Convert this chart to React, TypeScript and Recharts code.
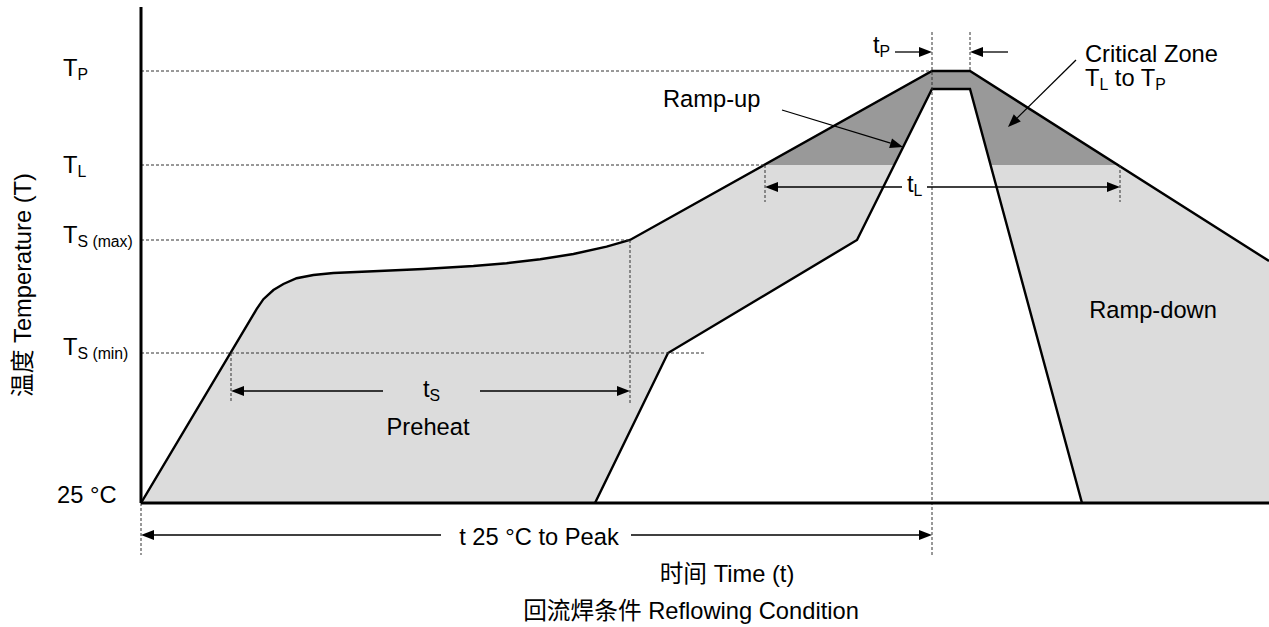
import {
  ComposedChart,
  Area,
  Line,
  XAxis,
  YAxis,
  ReferenceLine,
  ReferenceDot,
} from 'recharts';

const FONT = '"Liberation Sans", Arial, "Noto Sans CJK SC", sans-serif';

// temperature levels (schematic units, 25 °C at the bottom)
const LEVEL_TEMP = [25, 100, 156.5, 194, 241];
const LEVEL_MAIN = ['25 °C', 'T', 'T', 'T', 'T'];
const LEVEL_SUB = ['', 'S (min)', 'S (max)', 'L', 'P'];
const LEVEL_GUIDE_END = [0, 141.25, 122.25, 156, 197.75];

const T_MIN = 25;
const T_MAX = 273;
const TIME_MAX = 282;
const TL = 194;

// outer (slow) profile
const OUTER_TIME = [0, 28.9, 30.6, 33.1, 35.6, 38.9, 43.1, 48.1, 58.1, 70.6, 83.1, 91.4, 99.8, 108.1, 116.4, 122.25, 197.75, 207.25, 282];
const OUTER_TEMP = [25, 121.9, 126.9, 131.5, 134.5, 137.4, 139, 140, 140.9, 142, 143.5, 144.9, 146.9, 149.5, 153.2, 156.5, 241, 241, 146];

// inner (fast) profile
const INNER_TIME = [113.5, 131.75, 179, 197.75, 207.25, 235.25];
const INNER_TEMP = [25, 100, 156.5, 232, 232, 25];

// critical zone, TL to TP
const CRIT_TIME = [156, 197.75, 207.25, 244.25];
const CRIT_TEMP = [194, 241, 241, 194];

// vertical dotted guides: time, from temp, to temp
const GUIDE_TIME = [0, 22.5, 122.25, 156, 244.75, 197.75, 207.25];
const GUIDE_FROM = [25, 100, 156.5, 194, 194, 260.5, 260.5];
const GUIDE_TO = [-1, 75, 75, 175.5, 175.5, -1, 241];

// arrows: [t1, T1, t2, T2], head at the second point
const ARROWS: number[][] = [
  [60.5, 81, 22.5, 81],
  [84.75, 81, 122.25, 81],
  [190.25, 183, 156, 183],
  [196.5, 183, 244.75, 183],
  [75, 9, 0, 9],
  [122.5, 9, 197.75, 9],
  [188.5, 250.5, 197.75, 250.5],
  [216.75, 250.5, 207.25, 250.5],
  [160.25, 221.5, 190.5, 203],
  [233.75, 246.5, 216.75, 213],
];

// text notes: parts ([text, isSubscript]), time, temp, anchor
type Part = [string, boolean?];
const NOTES: { parts: Part[]; t: number; temp: number; anchor: string; rotate?: boolean }[] = [
  { parts: [['t'], ['S', true]], t: 70.5, temp: 78, anchor: 'start' },
  { parts: [['Preheat']], t: 71.75, temp: 59, anchor: 'middle' },
  { parts: [['Ramp-up']], t: 130.5, temp: 223.2, anchor: 'start' },
  { parts: [['Critical Zone']], t: 236, temp: 245.5, anchor: 'start' },
  { parts: [['T'], ['L', true], [' to T'], ['P', true]], t: 236, temp: 233.5, anchor: 'start' },
  { parts: [['t'], ['L', true]], t: 191.5, temp: 180.5, anchor: 'start' },
  { parts: [['t'], ['P', true]], t: 183, temp: 250, anchor: 'start' },
  { parts: [['Ramp-down']], t: 253, temp: 117.5, anchor: 'middle' },
  { parts: [['t 25 °C to Peak']], t: 99.5, temp: 4, anchor: 'middle' },
  { parts: [['时间 Time (t)']], t: 146.5, temp: -14.5, anchor: 'middle' },
  { parts: [['回流焊条件 Reflowing Condition']], t: 137.5, temp: -33, anchor: 'middle' },
  { parts: [['温度 Temperature (T)']], t: -27.5, temp: 134, anchor: 'middle', rotate: true },
];

// label placement next to the axis (pixels)
const LEVEL_LABEL_X = [-21, -19.5, -19.5, -19.5, -19.5];
const LEVEL_NUDGE = [0, 2, 3, 8, 5];

const rows = (ts: number[], vs: number[]) => ts.map((t, i) => ({ t, v: vs[i] }));
const outerRows = rows(OUTER_TIME, OUTER_TEMP);
const innerRows = rows(INNER_TIME, INNER_TEMP);
const critRows = rows(CRIT_TIME, CRIT_TEMP);

function renderParts(parts: Part[]) {
  let low = false;
  return parts.map(([s, sub], i) => {
    let dy = 0;
    if (sub && !low) {
      dy = 4;
      low = true;
    } else if (!sub && low) {
      dy = -4;
      low = false;
    }
    return (
      <tspan key={i} dy={dy} fontSize={sub ? 15.8 : undefined}>
        {s}
      </tspan>
    );
  });
}

function arrowShape(props: any) {
  const { x1, y1, x2, y2 } = props;
  const dx = x2 - x1;
  const dy = y2 - y1;
  const len = Math.hypot(dx, dy) || 1;
  const ux = dx / len;
  const uy = dy / len;
  const hl = 13;
  const hw = 5;
  const bx = x2 - ux * hl;
  const by = y2 - uy * hl;
  const pts = `${x2},${y2} ${bx - uy * hw},${by + ux * hw} ${bx + uy * hw},${by - ux * hw}`;
  return (
    <g>
      <line x1={x1} y1={y1} x2={bx} y2={by} stroke="#000" strokeWidth={1.3} />
      <polygon points={pts} fill="#000" />
    </g>
  );
}

function textShape(parts: Part[], anchor: string, nudge = 0, rotate = false) {
  return (p: any) => (
    <text
      x={p.cx}
      y={p.cy + nudge}
      textAnchor={anchor as any}
      fontSize={23.7}
      fontFamily={FONT}
      fill="#000"
      transform={rotate ? `rotate(-90 ${p.cx} ${p.cy})` : undefined}
    >
      {renderParts(parts)}
    </text>
  );
}

export default function App() {
  return (
    <div style={{ position: 'absolute', left: 0, top: 0, background: '#fff' }}>
      <ComposedChart width={1269} height={627} margin={{ top: 7, right: 0, bottom: 124, left: 141 }}>
        <XAxis type="number" dataKey="t" domain={[0, TIME_MAX]} allowDataOverflow hide />
        <YAxis type="number" domain={[T_MIN, T_MAX]} allowDataOverflow hide />
        <Area
          data={outerRows}
          dataKey="v"
          type="linear"
          stroke="none"
          fill="#dcdcdc"
          fillOpacity={1}
          isAnimationActive={false}
        />
        <Area
          data={critRows}
          dataKey="v"
          type="linear"
          baseValue={TL}
          stroke="none"
          fill="#999999"
          fillOpacity={1}
          isAnimationActive={false}
        />
        <Area
          data={innerRows}
          dataKey="v"
          type="linear"
          stroke="#000"
          strokeWidth={2.4}
          fill="#ffffff"
          fillOpacity={1}
          isAnimationActive={false}
        />
        <Line
          data={outerRows}
          dataKey="v"
          type="linear"
          stroke="#000"
          strokeWidth={2.4}
          dot={false}
          activeDot={false}
          isAnimationActive={false}
        />
        {LEVEL_TEMP.map((T, i) =>
          LEVEL_GUIDE_END[i] > 0 ? (
            <ReferenceLine
              key={`h${i}`}
              segment={[{ x: 0, y: T }, { x: LEVEL_GUIDE_END[i], y: T }]}
              stroke="#333"
              strokeWidth={1}
              strokeDasharray="3 2"
              ifOverflow="visible"
            />
          ) : null
        )}
        {GUIDE_TIME.map((t, i) => (
          <ReferenceLine
            key={`v${i}`}
            segment={[{ x: t, y: GUIDE_FROM[i] }, { x: t, y: GUIDE_TO[i] }]}
            stroke="#333"
            strokeWidth={1}
            strokeDasharray="3 2"
            ifOverflow="visible"
          />
        ))}
        {/* axis lines */}
        <ReferenceLine
          segment={[{ x: 0, y: T_MIN }, { x: 0, y: T_MAX }]}
          stroke="#000"
          strokeWidth={3}
          ifOverflow="visible"
        />
        <ReferenceLine
          segment={[{ x: 0, y: T_MIN }, { x: TIME_MAX, y: T_MIN }]}
          stroke="#000"
          strokeWidth={3}
          ifOverflow="visible"
        />
        {ARROWS.map((a, i) => (
          <ReferenceLine
            key={`a${i}`}
            segment={[{ x: a[0], y: a[1] }, { x: a[2], y: a[3] }]}
            ifOverflow="visible"
            shape={arrowShape}
          />
        ))}
        {LEVEL_TEMP.map((T, i) => (
          <ReferenceDot
            key={`l${i}`}
            x={LEVEL_LABEL_X[i]}
            y={T}
            r={1}
            ifOverflow="visible"
            shape={textShape(
              LEVEL_SUB[i] ? [[LEVEL_MAIN[i]], [LEVEL_SUB[i], true]] : [[LEVEL_MAIN[i]]],
              'start',
              LEVEL_NUDGE[i]
            )}
          />
        ))}
        {NOTES.map((n, i) => (
          <ReferenceDot
            key={`n${i}`}
            x={n.t}
            y={n.temp}
            r={1}
            ifOverflow="visible"
            shape={textShape(n.parts, n.anchor, 0, n.rotate)}
          />
        ))}
      </ComposedChart>
    </div>
  );
}
